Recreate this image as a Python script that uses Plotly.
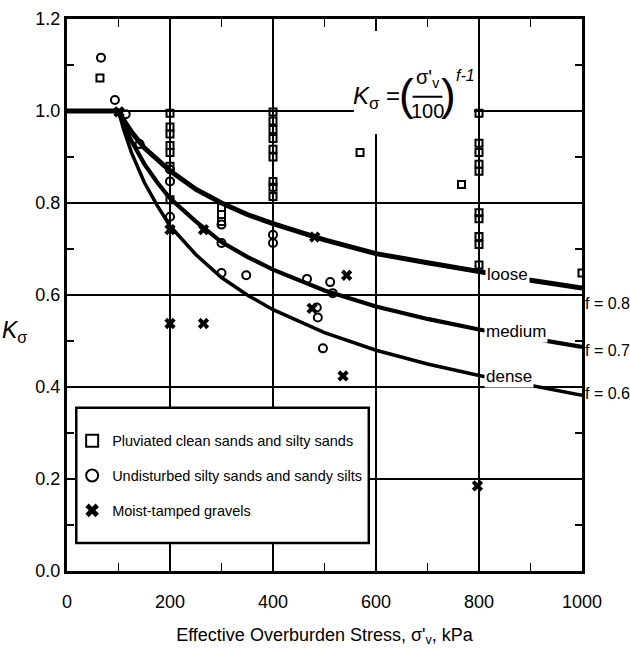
import plotly.graph_objects as go

# ---------------- data ----------------
# curve sample points (kPa) and read-off K_sigma values
curve_stress = [0, 100, 110, 125, 150, 175, 200, 250, 300, 350, 400, 500, 600, 700, 800, 900, 1000]
k_loose  = [1.0, 1.0, 0.98, 0.955, 0.92, 0.895, 0.87, 0.83, 0.80, 0.775, 0.755, 0.72, 0.69, 0.67, 0.65, 0.632, 0.615]
k_medium = [1.0, 1.0, 0.97, 0.935, 0.885, 0.845, 0.81, 0.76, 0.715, 0.683, 0.655, 0.61, 0.575, 0.548, 0.525, 0.505, 0.487]
k_dense  = [1.0, 1.0, 0.96, 0.91, 0.845, 0.795, 0.75, 0.688, 0.638, 0.60, 0.568, 0.518, 0.48, 0.45, 0.425, 0.403, 0.382]

# Pluviated clean sands and silty sands (squares)
pluv_x = [64, 200, 200, 200, 200, 200, 200, 200, 300, 300, 300,
          400, 400, 400, 400, 400, 400, 400, 400, 400, 569, 766,
          800, 800, 800, 800, 800, 800, 800, 800, 800, 800, 1000]
pluv_y = [1.072, 0.995, 0.965, 0.95, 0.925, 0.91, 0.88, 0.807, 0.79, 0.775, 0.76,
          0.998, 0.978, 0.96, 0.94, 0.917, 0.90, 0.847, 0.834, 0.814, 0.91, 0.84,
          0.995, 0.93, 0.91, 0.884, 0.869, 0.779, 0.766, 0.727, 0.71, 0.665, 0.648]

# Undisturbed silty sands and sandy silts (circles)
und_x = [66, 93, 114, 141, 200, 200, 200, 300, 300, 300, 348, 400, 400,
         466, 511, 516, 485, 487, 497]
und_y = [1.116, 1.024, 0.993, 0.928, 0.873, 0.847, 0.77, 0.753, 0.713, 0.648, 0.643, 0.731, 0.713,
         0.635, 0.628, 0.604, 0.573, 0.551, 0.484]

# Moist-tamped gravels (crosses)
grav_x = [101, 200, 200, 265, 265, 481, 476, 543, 536, 797]
grav_y = [0.998, 0.742, 0.538, 0.742, 0.538, 0.726, 0.571, 0.643, 0.424, 0.185]

x_ticks = [0, 200, 400, 600, 800, 1000]
x_minor = [100, 300, 500, 700, 900]
y_ticks = [0.0, 0.2, 0.4, 0.6, 0.8, 1.0, 1.2]
y_minor = [0.1, 0.3, 0.5, 0.7, 0.9, 1.1]

curve_names = ["loose", "medium", "dense"]
curve_f = ["f = 0.8", "f = 0.7", "f = 0.6"]
series_names = ["Pluviated clean sands and silty sands",
                "Undisturbed silty sands and sandy silts",
                "Moist-tamped gravels"]

FONT = "Liberation Sans, Arial, sans-serif"

fig = go.Figure()

# curves
for ks, w in zip([k_loose, k_medium, k_dense], [5, 4.2, 3.5]):
    fig.add_trace(go.Scatter(x=curve_stress, y=ks, mode="lines",
                             line=dict(color="black", width=w),
                             showlegend=False, hoverinfo="skip"))

# data points
fig.add_trace(go.Scatter(x=pluv_x, y=pluv_y, mode="markers", name=series_names[0],
                         legendgroup="a",
                         marker=dict(symbol="square-open", size=7, color="black",
                                     line=dict(width=2, color="black"))))
fig.add_trace(go.Scatter(x=und_x, y=und_y, mode="markers", name=series_names[1],
                         legendgroup="b",
                         marker=dict(symbol="circle-open", size=8, color="black",
                                     line=dict(width=2, color="black"))))
fig.add_trace(go.Scatter(x=grav_x, y=grav_y, mode="markers", name=series_names[2],
                         legendgroup="c",
                         marker=dict(symbol="x", size=10, color="black",
                                     line=dict(width=0))))

# white box behind the formula (covers gridlines)
fig.add_shape(type="rect", x0=557, x1=790, y0=0.95, y1=1.2, xref="x", yref="y",
              fillcolor="white", line=dict(width=0), layer="between")
# legend frame
fig.add_shape(type="rect", x0=18, x1=586, y0=0.061, y1=0.355, xref="x", yref="y",
              fillcolor="white", line=dict(width=2.5, color="black"), layer="between")

# formula
fig.add_annotation(x=650, y=1.03, xref="x", yref="y", xanchor="right", showarrow=False,
                   text="<i>K</i><sub>σ</sub> =", font=dict(family=FONT, size=24, color="black"))
fig.add_annotation(x=659, y=1.036, xref="x", yref="y", showarrow=False,
                   text="(", font=dict(family=FONT, size=44, color="black"))
fig.add_annotation(x=700, y=1.07, xref="x", yref="y", showarrow=False,
                   text="σ'<sub>v</sub>", font=dict(family=FONT, size=20, color="black"))
fig.add_shape(type="line", x0=671, x1=729, y0=1.031, y1=1.031, xref="x", yref="y",
              line=dict(color="black", width=2))
fig.add_annotation(x=700, y=1.0, xref="x", yref="y", showarrow=False,
                   text="100", font=dict(family=FONT, size=20, color="black"))
fig.add_annotation(x=741, y=1.036, xref="x", yref="y", showarrow=False,
                   text=")", font=dict(family=FONT, size=44, color="black"))
fig.add_annotation(x=751, y=1.078, xref="x", yref="y", xanchor="left", showarrow=False,
                   text="<i>f-1</i>", font=dict(family=FONT, size=16, color="black"))

# curve labels
for name, xx, yy in zip(curve_names, [856, 872, 858], [0.644, 0.52, 0.422]):
    fig.add_annotation(x=xx, y=yy, xref="x", yref="y", showarrow=False, text=name,
                       bgcolor="white", borderpad=1,
                       font=dict(family=FONT, size=17, color="black"))
for name, yy in zip(curve_f, [0.582, 0.479, 0.385]):
    fig.add_annotation(x=1.0, y=yy, xref="paper", yref="y", xanchor="left", xshift=1,
                       showarrow=False, text=name,
                       font=dict(family=FONT, size=16, color="black"))

# y axis label
fig.add_annotation(x=0, y=0.52, xref="paper", yref="y", xanchor="right", xshift=-38,
                   showarrow=False,
                   text="<i>K</i><sub>σ</sub>", font=dict(family=FONT, size=23, color="black"))

fig.update_xaxes(range=[0, 1000], tickvals=x_ticks, ticktext=[str(v) for v in x_ticks],
                 showgrid=True, gridcolor="black", gridwidth=1.6, zeroline=False,
                 showline=True, linecolor="black", linewidth=3, mirror="allticks",
                 ticks="inside", ticklen=12, tickwidth=1.6, tickcolor="black",
                 minor=dict(tickvals=x_minor, ticks="inside", ticklen=8, tickwidth=1.6,
                            tickcolor="black", showgrid=False),
                 tickfont=dict(family=FONT, size=18, color="black"),
                 ticklabelstandoff=12, automargin=False,
                 title=dict(text="Effective Overburden Stress, σ'<sub>v</sub>, kPa",
                            font=dict(family=FONT, size=18, color="black"), standoff=18))
fig.update_yaxes(range=[0, 1.2], tickvals=y_ticks, ticktext=[f"{v:.1f}" for v in y_ticks],
                 showgrid=True, gridcolor="black", gridwidth=1.6, zeroline=False,
                 showline=True, linecolor="black", linewidth=3, mirror="allticks",
                 ticks="", automargin=False,
                 minor=dict(tickvals=y_minor, ticks="inside", ticklen=7, tickwidth=1.6,
                            tickcolor="black", showgrid=False),
                 tickfont=dict(family=FONT, size=18, color="black"))

fig.update_layout(
    width=630, height=668,
    margin=dict(l=67, r=48, t=19, b=97),
    paper_bgcolor="white", plot_bgcolor="white",
    font=dict(family=FONT, color="black"),
    legend=dict(x=0.01, y=0.265, xanchor="left", yanchor="top",
                bgcolor="rgba(0,0,0,0)", borderwidth=0,
                font=dict(family=FONT, size=14.5, color="black"),
                tracegroupgap=13, traceorder="grouped",
                itemsizing="constant"),
)

# remove the default page margin so the 630x668 figure fills the window exactly
fig.write_html("out.html",
               config={"displayModeBar": False, "staticPlot": True},
               post_script="document.body.style.margin='0px';document.body.style.overflow='hidden';")
